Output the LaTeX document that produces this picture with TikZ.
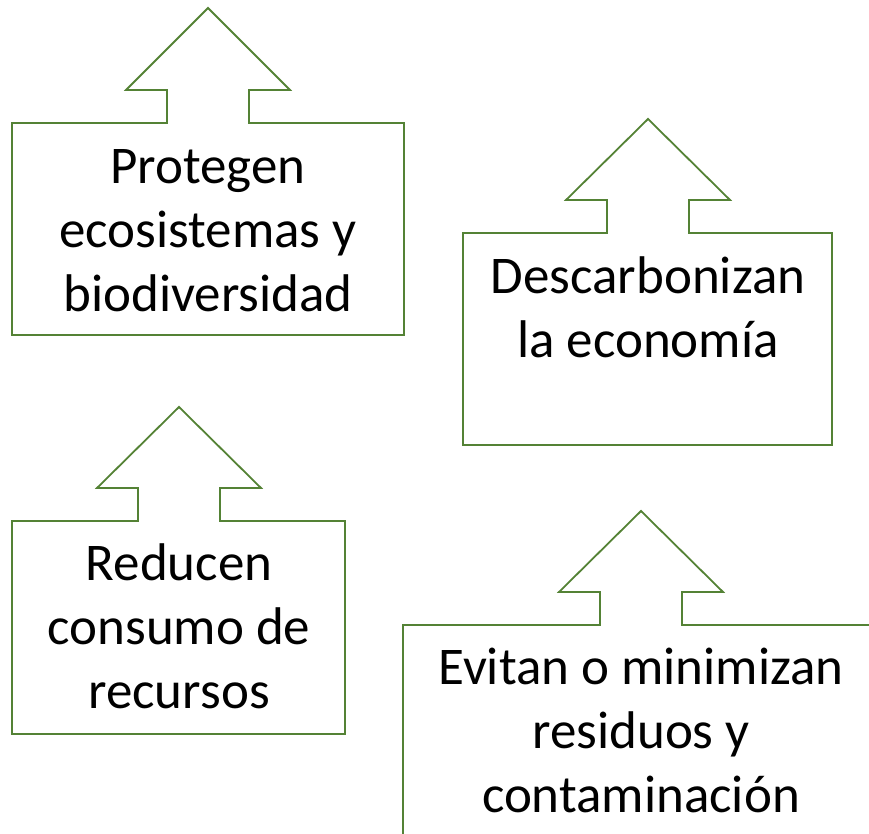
\documentclass[tikz,border=0pt]{standalone}
\usepackage{fontspec}
\setmainfont{Carlito}
\definecolor{leaf}{HTML}{548235}
\tikzset{
  arrowbox/.style={draw=leaf,line width=1.8pt,line join=miter},
  boxtext/.style={align=center,inner sep=0pt,anchor=base,
    font=\fontsize{53}{64}\selectfont}
}
\begin{document}
\begin{tikzpicture}[x=1pt,y=-1pt]
      \clip (0,0) rectangle (869,834);
      \draw[arrowbox] (12,123) -- (167,123) -- (167,90) -- (126,90) -- (208,8)
        -- (290,90) -- (249,90) -- (249,123) -- (404,123) -- (404,335)
        -- (12,335) -- cycle;
      \draw[arrowbox] (463,233) -- (607,233) -- (607,200) -- (566,200) -- (648,119)
        -- (730,200) -- (689,200) -- (689,233) -- (832,233) -- (832,445)
        -- (463,445) -- cycle;
      \draw[arrowbox] (12,521) -- (138,521) -- (138,488) -- (97,488) -- (179,407)
        -- (261,488) -- (220,488) -- (220,521) -- (345,521) -- (345,734)
        -- (12,734) -- cycle;
      \draw[arrowbox] (403,625) -- (600,625) -- (600,592) -- (559,592) -- (641,511)
        -- (723,592) -- (682,592) -- (682,625) -- (879,625) -- (879,837)
        -- (403,837) -- cycle;
      % base anchor sits on the last line
      \node[boxtext] (protegen) at (208,311) {Protegen\\ecosistemas y\\biodiversidad};
      \node[boxtext] (descarbonizan) at (648,357) {Descarbonizan\\la economía};
      \node[boxtext] (reducen) at (179,708) {Reducen\\consumo de\\recursos};
      \node[boxtext] (evitan) at (641,812) {Evitan o minimizan\\residuos y\\contaminación};
    \end{tikzpicture}
\end{document}
